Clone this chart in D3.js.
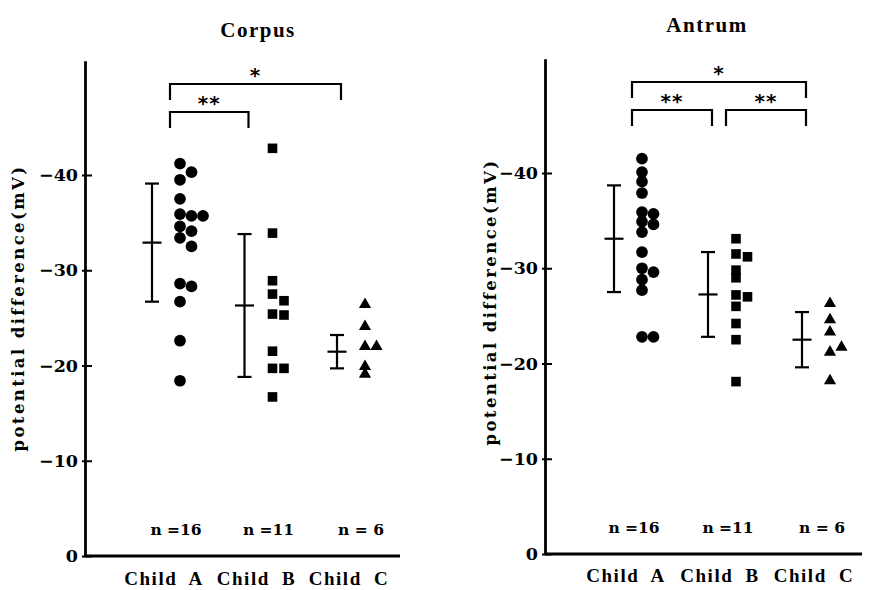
<!DOCTYPE html>
<html>
<head>
<meta charset="utf-8">
<script src="https://cdn.jsdelivr.net/npm/d3@7"></script>
<style>
  html, body { margin: 0; padding: 0; background: #fff; }
  svg { display: block; }
  text { fill: #000; }
</style>
</head>
<body>
<svg id="chart" width="875" height="590"></svg>
<script>
// ---------------- DATA ----------------
const categories = ["Child A", "Child B", "Child C"];
const nLabels = ["n =16", "n =11", "n = 6"];
const tickValues = [0, -10, -20, -30, -40];
const yLabel = "potential difference(mV)";

// Corpus (mV)
const corpusA = [-41.2, -40.3, -39.5, -37.5, -35.9, -35.7, -35.7, -34.6, -34.1, -33.4, -32.5, -28.6, -28.3, -26.7, -22.6, -18.4];
const corpusB = [-42.8, -33.9, -28.9, -27.5, -26.8, -25.4, -25.3, -21.5, -19.7, -19.7, -16.7];
const corpusC = [-26.5, -24.2, -22.1, -22.1, -20.0, -19.2];
const corpusMean = [-32.9, -26.3, -21.45];
const corpusSD = [6.2, 7.5, 1.75];
const corpusSig = [["Child A", "Child B", "**", 0], ["Child A", "Child C", "*", 1]];

// Antrum (mV)
const antrumA = [-41.5, -40.1, -39.1, -37.9, -35.9, -35.7, -34.9, -34.6, -33.8, -31.7, -30.0, -29.6, -28.8, -27.7, -22.8, -22.8];
const antrumB = [-33.1, -31.5, -31.2, -29.8, -29.0, -27.2, -27.0, -26.0, -24.2, -22.5, -18.1];
const antrumC = [-26.4, -24.7, -23.4, -21.3, -21.8, -18.3];
const antrumMean = [-33.1, -27.25, -22.5];
const antrumSD = [5.6, 4.45, 2.9];
const antrumSig = [["Child A", "Child B", "**", 0], ["Child B", "Child C", "**", 0], ["Child A", "Child C", "*", 1]];

// ---------------- LAYOUT ----------------
const svg = d3.select("#chart");
const serif = "'DejaVu Serif', 'Liberation Serif', serif";
const tserif = "'Liberation Serif', 'DejaVu Serif', serif";

const panels = [
  { title: "Corpus", groups: [corpusA, corpusB, corpusC], mean: corpusMean, sd: corpusSD, sig: corpusSig,
    axisX: 85, y0: 556, xEnd: 400, ebar: [152, 337], titleX: 258, titleY: 37, labX: 18, labY: 308,
    catY: 585, nY: 535, nOff: 24 },
  { title: "Antrum", groups: [antrumA, antrumB, antrumC], mean: antrumMean, sd: antrumSD, sig: antrumSig,
    axisX: 545, y0: 554, xEnd: 862, ebar: [614, 802], titleX: 707, titleY: 32, labX: 490, labY: 302,
    catY: 582, nY: 533, nOff: 20 }
];

const shapes = [d3.symbolCircle, d3.symbolSquare, d3.symbolTriangle];
const shapeSize = [108, 92, 64];
const dodgeT = [9.5, 7.5, 7];

panels.forEach(p => {
  const g = svg.append("g");
  const unit = 9.525;
  const y = d3.scaleLinear().domain([0, -52]).range([p.y0, p.y0 - 52 * unit]);
  const x = d3.scalePoint().domain(categories).range(p.ebar);

  // y axis
  const ax = g.append("g").attr("transform", `translate(${p.axisX},0)`)
    .call(d3.axisLeft(y).tickValues(tickValues).tickSizeOuter(0).tickSizeInner(-7).tickPadding(7)
      .tickFormat(d => d === 0 ? "0" : "\u2212" + Math.abs(d)));
  ax.select(".domain").attr("stroke", "#000").attr("stroke-width", 2.8);
  ax.selectAll(".tick line").attr("x1", -3).attr("x2", 7).attr("stroke", "#000").attr("stroke-width", 2);
  ax.selectAll(".tick text").attr("font-family", serif).attr("font-size", 17.5).attr("font-weight", "bold")
    .attr("fill", "#000");

  // x axis line
  g.append("line").attr("x1", p.axisX).attr("x2", p.xEnd).attr("y1", p.y0).attr("y2", p.y0)
    .attr("stroke", "#000").attr("stroke-width", 2.8);

  // titles
  g.append("text").attr("x", p.titleX).attr("y", p.titleY).attr("text-anchor", "middle")
    .attr("font-family", tserif).attr("font-size", 21).attr("font-weight", "bold")
    .attr("letter-spacing", 1.5).text(p.title);

  g.append("text").attr("transform", `translate(${p.labX},${p.labY}) rotate(-90)`)
    .attr("text-anchor", "middle").attr("dominant-baseline", "central")
    .attr("font-family", serif).attr("font-size", 16.5).attr("font-weight", "bold")
    .attr("letter-spacing", 2.4).text(yLabel);

  // category labels
  g.selectAll(".cat").data(categories).join("text")
    .attr("x", d => x(d) + 12).attr("y", p.catY).attr("text-anchor", "middle")
    .attr("font-family", tserif).attr("font-size", 19).attr("font-weight", "bold")
    .attr("letter-spacing", 1.5).attr("word-spacing", 6).text(d => d);

  // n labels
  g.selectAll(".nlab").data(nLabels).join("text")
    .attr("x", (d, i) => x(categories[i]) + p.nOff).attr("y", p.nY).attr("text-anchor", "middle")
    .attr("font-family", serif).attr("font-size", 15.5).attr("font-weight", "bold").text(d => d);

  // error bars
  categories.forEach((c, i) => {
    const cx = x(c);
    const top = y(p.mean[i] - p.sd[i]), bot = y(p.mean[i] + p.sd[i]), m = y(p.mean[i]);
    const eb = g.append("g").attr("stroke", "#000").attr("stroke-width", 2.2);
    eb.append("line").attr("x1", cx).attr("x2", cx).attr("y1", top).attr("y2", bot);
    eb.append("line").attr("x1", cx - 7).attr("x2", cx + 7).attr("y1", top).attr("y2", top);
    eb.append("line").attr("x1", cx - 7).attr("x2", cx + 7).attr("y1", bot).attr("y2", bot);
    eb.append("line").attr("x1", cx - 9.5).attr("x2", cx + 9.5).attr("y1", m).attr("y2", m);

    // points with simple dodge
    const placed = [];
    p.groups[i].forEach(v => {
      const py = y(v);
      let col = 0;
      while (placed.some(q => q.col === col && Math.abs(q.y - py) < dodgeT[i])) col++;
      placed.push({ y: py, col });
    });
    g.selectAll(null).data(placed).join("path")
      .attr("d", d3.symbol().type(shapes[i]).size(shapeSize[i]))
      .attr("transform", d => `translate(${cx + 28 + d.col * 11.5},${d.y + (i === 2 ? 1 : 0)})`)
      .attr("fill", "#000");
  });

  // significance brackets
  p.sig.forEach(([a, b, stars, level]) => {
    const x1 = x(a) + 18, x2 = x(b) + 4;
    const by = level === 0 ? p.y0 - 444 : p.y0 - 472;
    const leg = 16;
    g.append("path")
      .attr("d", `M${x1},${by + leg}V${by}H${x2}V${by + leg}`)
      .attr("fill", "none").attr("stroke", "#000").attr("stroke-width", 2.2);
    g.append("text").attr("x", (x1 + x2) / 2).attr("y", by - 2).attr("text-anchor", "middle")
      .attr("font-family", "'DejaVu Sans', sans-serif").attr("font-weight", "bold").attr("font-size", 20)
      .attr("letter-spacing", 1).text(stars);
  });
});
</script>
</body>
</html>
